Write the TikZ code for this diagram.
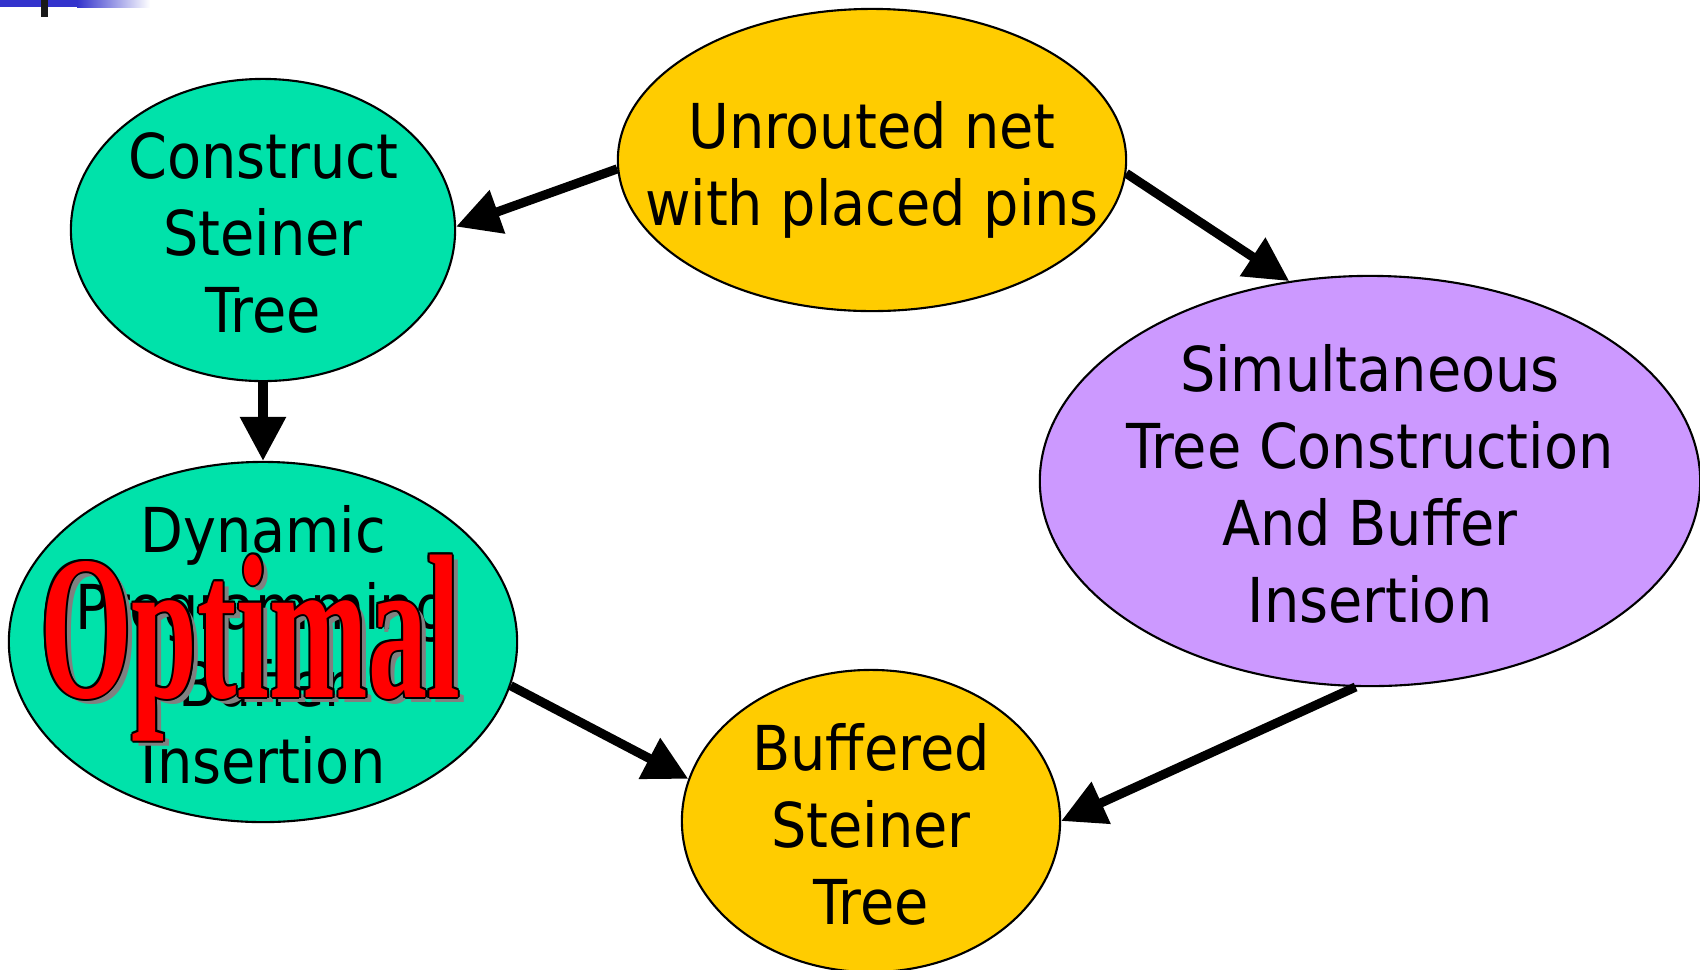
\documentclass[tikz,border=0pt]{standalone}
\usepackage{graphicx}
\usepackage{fontspec}
\setmainfont{DejaVu Sans Condensed}
\newfontfamily\optfont{Liberation Serif}
\usetikzlibrary{arrows.meta,shapes.geometric}
\definecolor{seagreen}{RGB}{0,226,170}
\definecolor{gold}{RGB}{255,204,0}
\definecolor{lilac}{RGB}{204,153,255}
\definecolor{barblue}{RGB}{51,51,204}
\newcommand{\optword}{\scalebox{0.575}[1]{\optfont\bfseries\fontsize{58.4}{60}\selectfont Optimal}}

\begin{document}
\begin{tikzpicture}[x=0.01cm,y=-0.01cm,
  blob/.style={ellipse,draw=black,line width=0.6pt,inner sep=0pt},
  words/.style={align=center,inner sep=0pt,yshift=-0.9pt,font=\fontsize{17.6}{21.9}\selectfont},
  flow/.style={-{Triangle[length=12.5pt,width=12.5pt]},line width=2.6pt},
  optcopy/.style={anchor=base,inner sep=0pt}]
\useasboundingbox (0,0) rectangle (1700,969);

% Title bar corner
\fill[barblue] (0,0) rectangle (77,7);
\shade[left color=barblue,right color=white] (77,0) rectangle (150,7);
\fill[black!90] (41,0) rectangle (48,17);

% Ellipses
\node[blob,fill=gold,minimum width=5.08cm,minimum height=3.02cm] (un) at (872,160) {};
\node[blob,fill=seagreen,minimum width=3.84cm,minimum height=3.02cm] (cst) at (263,230) {};
\node[blob,fill=seagreen,minimum width=5.08cm,minimum height=3.6cm] (dyn) at (263,642) {};
\node[blob,fill=lilac,minimum width=6.6cm,minimum height=4.1cm] (sim) at (1370,481) {};
\node[blob,fill=gold,minimum width=3.78cm,minimum height=3.02cm] (buf) at (871,821) {};

% Texts
\node[words,yshift=-1.9pt] (untext) at (un) {Unrouted net\\with placed pins};
\node[words] (csttext) at (cst) {Construct\\Steiner\\Tree};
\node[words] (dyntext) at (dyn) {Dynamic\\Programming\\Buffer\\Insertion};
\node[words] (simtext) at (sim) {Simultaneous\\Tree Construction\\And Buffer\\Insertion};
\node[words] (buftext) at (buf) {Buffered\\Steiner\\Tree};

% Arrows
\draw[flow] (un.182) -- (cst.1);
\draw[flow] (un.357) -- (sim.112);
\draw[flow] (cst.south) -- (dyn.north);
\draw[flow] (dyn.350) -- (buf.167);
\draw[flow] (sim.266) -- (buf.east);

% Optimal stamp
\node[optcopy,text=black!50] (optshadow) at (256,702) {\optword};
\foreach \dx/\dy [count=\k] in {-2/0,2/0,0/-2,0/2,-1.4/-1.4,1.4/-1.4,-1.4/1.4,1.4/1.4}
    \node[optcopy,text=black] (optrim\k) at (250+\dx,697+\dy) {\optword};
\node[optcopy,text=red] (opt) at (250,697) {\optword};

\end{tikzpicture}
\end{document}
